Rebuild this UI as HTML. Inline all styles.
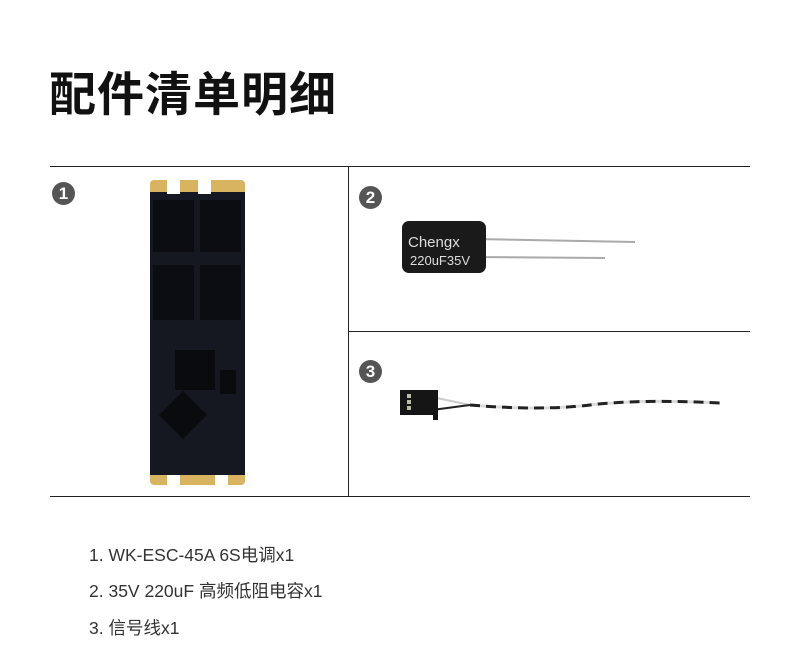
<!DOCTYPE html>
<html><head><meta charset="utf-8"><style>
body{margin:0;width:800px;height:669px;background:#fff;position:relative;overflow:hidden;font-family:"Liberation Sans","Noto Sans CJK SC",sans-serif}
.a{position:absolute}
.num{position:absolute;width:23px;height:23px;border-radius:50%;background:#555;color:#fff;font-size:17px;line-height:23px;text-align:center;font-weight:bold}
.li{position:absolute;left:89px;font-size:17.5px;color:#333}
</style></head><body>
<div class="a" style="left:49px;top:56px;font-size:47px;font-weight:bold;color:#111;letter-spacing:1px">配件清单明细</div>
<div class="a" style="left:50px;top:166px;width:700px;height:1px;background:#222"></div>
<div class="a" style="left:50px;top:496px;width:700px;height:1px;background:#222"></div>
<div class="a" style="left:348px;top:166px;width:1px;height:331px;background:#222"></div>
<div class="a" style="left:348px;top:331px;width:402px;height:1px;background:#222"></div>
<div class="num" style="left:52px;top:182px">1</div>
<div class="num" style="left:359px;top:186px">2</div>
<div class="num" style="left:359px;top:360px">3</div>
<svg class="a" style="left:140px;top:170px" width="120" height="320">
<rect x="10" y="10" width="95" height="305" rx="4" fill="#d8b460"/>
<rect x="10" y="22" width="95" height="283" fill="#151820"/>
<rect x="27" y="10" width="13" height="14" fill="#fff"/><rect x="58" y="10" width="13" height="14" fill="#fff"/>
<rect x="27" y="305" width="13" height="12" fill="#fff"/><rect x="75" y="305" width="13" height="12" fill="#fff"/>
<rect x="13" y="30" width="41" height="52" fill="#0c0d12"/><rect x="60" y="30" width="41" height="52" fill="#0c0d12"/>
<rect x="13" y="95" width="41" height="55" fill="#0c0d12"/><rect x="60" y="95" width="41" height="55" fill="#0c0d12"/>
<rect x="35" y="180" width="40" height="40" fill="#0a0b0f"/>
<rect x="26" y="228" width="34" height="34" transform="rotate(45 43 245)" fill="#0a0b0f"/>
<rect x="80" y="200" width="16" height="24" fill="#0a0b0f"/>
</svg>
<svg class="a" style="left:390px;top:215px" width="260" height="60">
<line x1="85" y1="24" x2="245" y2="27" stroke="#aaa" stroke-width="2"/>
<line x1="85" y1="42" x2="215" y2="43" stroke="#aaa" stroke-width="2"/>
<rect x="12" y="6" width="84" height="52" rx="7" fill="#1a1a1a"/>
<text x="18" y="32" fill="#ddd" font-size="15" font-family="Liberation Sans">Chengx</text>
<text x="20" y="50" fill="#ddd" font-size="13" font-family="Liberation Sans">220uF35V</text>
</svg>
<svg class="a" style="left:390px;top:385px" width="340" height="50">
<line x1="42" y1="12" x2="80" y2="20" stroke="#ccc" stroke-width="2"/>
<line x1="42" y1="25" x2="80" y2="20" stroke="#222" stroke-width="2"/>
<path d="M80 20 Q150 26 200 20 T330 18" stroke="#222" stroke-width="3" fill="none" stroke-dasharray="10 6"/>
<path d="M80 20 Q150 26 200 20 T330 18" stroke="#ddd" stroke-width="3" fill="none" stroke-dasharray="6 10" stroke-dashoffset="-10"/>
<rect x="10" y="5" width="38" height="25" fill="#151515"/>
<rect x="43" y="28" width="5" height="7" fill="#151515"/>
<rect x="17" y="9" width="4" height="4" fill="#bba"/><rect x="17" y="15" width="4" height="4" fill="#bba"/><rect x="17" y="21" width="4" height="4" fill="#bba"/>
</svg>
<div class="li" style="top:542px">1. WK-ESC-45A 6S电调x1</div>
<div class="li" style="top:578px">2. 35V 220uF 高频低阻电容x1</div>
<div class="li" style="top:615px">3. 信号线x1</div>
</body></html>
